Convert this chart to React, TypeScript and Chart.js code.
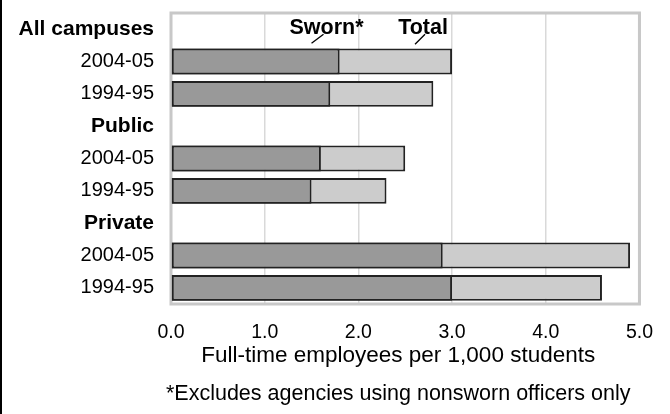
import React, { useEffect, useRef } from "react";
import { Chart, registerables } from "chart.js";

Chart.register(...registerables);

const rowLabels = ["All campuses", "2004-05", "1994-95", "Public", "2004-05", "1994-95", "Private", "2004-05", "1994-95"];
const headerRows = [true, false, false, true, false, false, true, false, false];
const swornValues = [null, 1.8, 1.7, null, 1.6, 1.5, null, 2.9, 3.0];
const totalValues = [null, 3.0, 2.8, null, 2.5, 2.3, null, 4.9, 4.6];
const xTicks = [0, 1, 2, 3, 4, 5];
const annotationLabels = ["Sworn*", "Total"];
const annotationX = [1.66, 2.69];
const axisTitle = "Full-time employees per 1,000 students";
const footnote = "*Excludes agencies using nonsworn officers only";

const FONT = "'Liberation Sans', Arial, sans-serif";

export default function App() {
  const ref = useRef<HTMLCanvasElement | null>(null);

  useEffect(() => {
    document.body.style.margin = "0";
    const canvas = ref.current;
    if (!canvas) return;

    const decorations = {
      id: "decorations",
      beforeDatasetsDraw(chart: any) {
        const { ctx, chartArea } = chart;
        ctx.save();
        ctx.strokeStyle = "#c8c8c8";
        ctx.lineWidth = 3;
        ctx.strokeRect(chartArea.left, chartArea.top, chartArea.right - chartArea.left, chartArea.bottom - chartArea.top);
        ctx.restore();
      },
      afterDraw(chart: any) {
        const { ctx, chartArea, scales } = chart;
        const xs = scales.x;
        const ys = scales.y;
        ctx.save();
        // left edge line
        ctx.fillStyle = "#000";
        ctx.fillRect(0, 0, 2, chart.height);
        // annotations
        const rowY = ys.getPixelForValue(0);
        ctx.font = `bold 21.5px ${FONT}`;
        ctx.textAlign = "center";
        ctx.textBaseline = "alphabetic";
        ctx.fillStyle = "#000";
        const leaders = [
          [-15, 14, -3, 5],
          [-8, 15, 2, 5],
        ];
        annotationLabels.forEach((lab, i) => {
          const cx = xs.getPixelForValue(annotationX[i]);
          ctx.fillText(lab, cx, rowY + 5);
          const l = leaders[i];
          ctx.beginPath();
          ctx.strokeStyle = "#000";
          ctx.lineWidth = 1.3;
          ctx.moveTo(cx + l[0], rowY + l[1]);
          ctx.lineTo(cx + l[2], rowY + l[3]);
          ctx.stroke();
        });
        // axis title and footnote
        const cx = (chartArea.left + chartArea.right) / 2 - 7;
        ctx.textBaseline = "middle";
        ctx.font = `22.5px ${FONT}`;
        ctx.fillText(axisTitle, cx, chartArea.bottom + 52);
        ctx.font = `21.5px ${FONT}`;
        ctx.fillText(footnote, cx, chartArea.bottom + 90);
        ctx.restore();
      },
    };

    const chart = new Chart(canvas, {
      type: "bar",
      data: {
        labels: rowLabels,
        datasets: [
          {
            label: "Sworn*",
            data: swornValues as any,
            backgroundColor: "#999999",
            borderColor: "#222222",
            borderWidth: 2,
            borderSkipped: false,
            grouped: false,
            barPercentage: 0.8,
            categoryPercentage: 1,
          },
          {
            label: "Total",
            data: totalValues as any,
            backgroundColor: "#cccccc",
            borderColor: "#222222",
            borderWidth: 2,
            borderSkipped: false,
            grouped: false,
            barPercentage: 0.8,
            categoryPercentage: 1,
          },
        ],
      },
      options: {
        indexAxis: "y",
        responsive: false,
        animation: false,
        layout: { padding: { top: 13, right: 27, bottom: 65, left: 0 } },
        plugins: {
          legend: { display: false },
          tooltip: { enabled: false },
          title: { display: false },
        },
        scales: {
          x: {
            type: "linear",
            min: xTicks[0],
            max: xTicks[xTicks.length - 1],
            afterBuildTicks(scale: any) {
              scale.ticks = xTicks.map((v) => ({ value: v }));
            },
            afterFit(scale: any) {
              scale.height = 45;
            },
            ticks: {
              color: "#000",
              font: { family: FONT, size: 19.5 },
              padding: 17,
              callback: (v: any) => Number(v).toFixed(1),
            },
            grid: { color: "#d9d9d9", lineWidth: 1.5, drawTicks: false },
            border: { display: false },
          },
          y: {
            type: "category",
            afterFit(scale: any) {
              scale.width = 171;
              scale.paddingTop = 0;
              scale.paddingBottom = 0;
            },
            ticks: {
              color: "#000",
              padding: 9,
              autoSkip: false,
              font: (ctx: any) => ({
                family: FONT,
                size: headerRows[ctx.index] ? 21 : 20,
                weight: headerRows[ctx.index] ? "bold" : "normal",
              }),
            },
            grid: { display: false },
            border: { display: false },
          },
        },
      },
      plugins: [decorations],
    } as any);

    return () => chart.destroy();
  }, []);

  return (
    <div style={{ width: 670, height: 414 }}>
      <canvas ref={ref} width={670} height={414} style={{ display: "block" }} />
    </div>
  );
}
